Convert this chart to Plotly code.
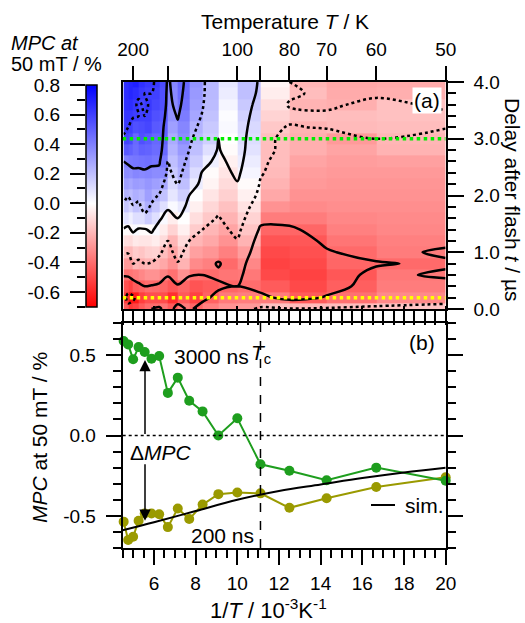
import numpy as np
import plotly.graph_objects as go

W, H = 525, 623
FONT = "Arial, 'Liberation Sans', sans-serif"
FS = 19      # tick labels
FT = 21      # titles and annotations

# ---------------- data ----------------
T_K = [220, 210, 200, 190, 180, 170, 160, 150, 140, 130, 120, 110, 100, 90, 80, 70, 60, 50]
inv_T = [1000.0 / t for t in T_K]

delays_us = [0.0, 0.2, 0.4, 0.6, 0.8, 1.0, 1.2, 1.4, 1.6, 1.8, 2.0,
             2.2, 2.4, 2.6, 2.8, 3.0, 3.2, 3.4, 3.6, 3.8, 4.0]

# MPC map (one list per temperature, delays 0.0 ... 4.0 us)
map_220K = [-0.45, -0.536, -0.48, -0.39, -0.28, -0.18, -0.09, -0.01, 0.09, 0.18, 0.24, 0.30, 0.36, 0.40, 0.52, 0.588, 0.62, 0.63, 0.65, 0.66, 0.66]
map_210K = [-0.55, -0.65, -0.52, -0.38, -0.28, -0.19, -0.10, -0.02, 0.05, 0.13, 0.21, 0.28, 0.35, 0.42, 0.50, 0.567, 0.60, 0.63, 0.66, 0.68, 0.68]
map_200K = [-0.52, -0.63, -0.45, -0.36, -0.20, -0.14, -0.06, 0.02, 0.10, 0.19, 0.25, 0.31, 0.38, 0.43, 0.46, 0.474, 0.55, 0.61, 0.63, 0.66, 0.70]
map_190K = [-0.45, -0.53, -0.43, -0.33, -0.22, -0.16, -0.07, -0.01, 0.10, 0.17, 0.23, 0.30, 0.37, 0.44, 0.50, 0.55, 0.56, 0.60, 0.58, 0.62, 0.65]
map_180K = [-0.40, -0.485, -0.40, -0.30, -0.20, -0.13, -0.07, -0.01, 0.16, 0.25, 0.30, 0.33, 0.38, 0.45, 0.49, 0.52, 0.58, 0.60, 0.62, 0.60, 0.62]
map_170K = [-0.40, -0.485, -0.41, -0.30, -0.21, -0.12, -0.05, 0.02, 0.10, 0.18, 0.24, 0.30, 0.36, 0.43, 0.46, 0.478, 0.52, 0.55, 0.58, 0.60, 0.62]
map_160K = [-0.38, -0.49, -0.42, -0.34, -0.24, -0.18, -0.10, -0.05, 0.02, 0.10, 0.19, 0.27, 0.36, 0.42, 0.47, 0.495, 0.50, 0.52, 0.55, 0.55, 0.56]
map_150K = [-0.45, -0.57, -0.46, -0.39, -0.30, -0.25, -0.20, -0.12, -0.05, 0.02, 0.08, 0.12, 0.17, 0.20, 0.24, 0.265, 0.30, 0.34, 0.36, 0.37, 0.38]
map_140K = [-0.36, -0.454, -0.42, -0.30, -0.21, -0.15, -0.10, -0.04, 0.00, 0.07, 0.15, 0.20, 0.25, 0.28, 0.32, 0.36, 0.38, 0.41, 0.44, 0.46, 0.47]
map_130K = [-0.42, -0.52, -0.47, -0.39, -0.32, -0.26, -0.20, -0.14, -0.09, -0.04, 0.00, 0.06, 0.11, 0.16, 0.20, 0.216, 0.24, 0.28, 0.30, 0.32, 0.34]
map_120K = [-0.35, -0.43, -0.45, -0.40, -0.35, -0.29, -0.24, -0.20, -0.15, -0.11, -0.07, -0.03, -0.01, 0.05, 0.10, 0.15, 0.17, 0.19, 0.21, 0.22, 0.22]
map_110K = [-0.30, -0.365, -0.42, -0.38, -0.41, -0.35, -0.30, -0.25, -0.21, -0.17, -0.13, -0.10, -0.07, -0.04, -0.01, 0.00, 0.02, 0.01, 0.03, 0.06, 0.08]
map_100K = [-0.28, -0.355, -0.40, -0.37, -0.33, -0.27, -0.21, -0.16, -0.12, -0.08, -0.04, -0.01, 0.03, 0.06, 0.09, 0.107, 0.12, 0.14, 0.17, 0.20, 0.20]
map_90K = [-0.17, -0.36, -0.45, -0.50, -0.52, -0.50, -0.47, -0.42, -0.36, -0.30, -0.24, -0.21, -0.19, -0.18, -0.18, -0.179, -0.15, -0.12, -0.09, -0.05, -0.03]
map_80K = [-0.19, -0.45, -0.50, -0.52, -0.50, -0.48, -0.46, -0.42, -0.36, -0.32, -0.30, -0.28, -0.27, -0.25, -0.22, -0.219, -0.21, -0.17, -0.21, -0.18, -0.20]
map_70K = [-0.18, -0.39, -0.44, -0.46, -0.42, -0.41, -0.38, -0.35, -0.33, -0.31, -0.30, -0.29, -0.28, -0.27, -0.25, -0.278, -0.19, -0.18, -0.22, -0.23, -0.24]
map_60K = [-0.16, -0.32, -0.36, -0.37, -0.41, -0.36, -0.35, -0.33, -0.32, -0.31, -0.30, -0.29, -0.28, -0.26, -0.21, -0.20, -0.18, -0.17, -0.17, -0.22, -0.23]
map_50K = [-0.15, -0.26, -0.35, -0.42, -0.38, -0.42, -0.37, -0.34, -0.32, -0.31, -0.30, -0.30, -0.29, -0.28, -0.26, -0.282, -0.19, -0.18, -0.22, -0.23, -0.24]

map_columns = [map_220K, map_210K, map_200K, map_190K, map_180K, map_170K, map_160K,
               map_150K, map_140K, map_130K, map_120K, map_110K, map_100K, map_90K,
               map_80K, map_70K, map_60K, map_50K]

# Traces in panel (b): MPC at 3000 ns and 200 ns
mpc_3000ns = [0.588, 0.567, 0.474, 0.55, 0.52, 0.478, 0.495, 0.265, 0.36, 0.216, 0.15, 0.0,
              0.107, -0.179, -0.219, -0.278, -0.2, -0.282]
mpc_200ns = [-0.536, -0.65, -0.63, -0.53, -0.485, -0.485, -0.49, -0.57, -0.454, -0.52, -0.43,
             -0.365, -0.355, -0.36, -0.45, -0.39, -0.32, -0.26]

sim_inv_T = [4.5, 6, 8, 10, 12, 14, 16, 18, 20]
sim_mpc = [-0.59, -0.54, -0.47, -0.40, -0.345, -0.305, -0.265, -0.23, -0.20]

Tc_inv = 1000.0 / 90
delay_late = 3.0
delay_early = 0.2

top_T_ticks = [200, 150, 100, 90, 80, 70, 60, 50]
top_T_text = ["200", "", "100", "", "80", "70", "60", "50"]
cbar_ticks = [-0.6, -0.4, -0.2, 0.0, 0.2, 0.4, 0.6, 0.8]
cbar_text = ["-0.6", "-0.4", "-0.2", "0.0", "0.2", "0.4", "0.6", "0.8"]
b_yticks = [-0.5, 0.0, 0.5]
b_ytext = ["-0.5", "0.0", "0.5"]

# ---------------- geometry ----------------
def px(x):
    return x / W

def py(y):
    return 1 - y / H

XDOM = [px(122.7), px(445.7)]
TOP_DOM = [py(309), py(82)]
BOT_DOM = [py(548), py(323)]
CB_X = [px(86), px(96.7)]
CB_Y = [py(306.7), py(85)]
XR = [4.5, 20]

Z = np.array(map_columns).T  # rows = delays, columns = temperatures

colorscale = [[0.0, "rgb(255,0,0)"], [0.7 / 1.5, "rgb(255,255,255)"], [1.0, "rgb(0,0,255)"]]

fig = go.Figure()

fig.add_trace(go.Heatmap(
    x=inv_T, y=delays_us, z=Z[:, :-1], colorscale=colorscale, zmin=-0.7, zmax=0.8,
    xaxis="x", yaxis="y", hoverinfo="skip",
    colorbar=dict(x=CB_X[0], xanchor="left", xpad=0, y=CB_Y[0], yanchor="bottom", ypad=0,
                  len=CB_Y[1] - CB_Y[0], lenmode="fraction", thickness=96.7 - 86,
                  thicknessmode="pixels", outlinewidth=1.5, outlinecolor="black",
                  ticks="", showticklabels=False)))

fig.add_trace(go.Contour(
    x=inv_T, y=delays_us, z=Z, xaxis="x", yaxis="y", showscale=False, hoverinfo="skip",
    contours=dict(coloring="none", start=-0.6, end=0.6, size=0.4, showlabels=False),
    line=dict(color="black", width=2.5, dash="dot")))
fig.add_trace(go.Contour(
    x=inv_T, y=delays_us, z=Z, xaxis="x", yaxis="y", showscale=False, hoverinfo="skip",
    contours=dict(coloring="none", start=-0.4, end=0.4, size=0.4, showlabels=False),
    line=dict(color="black", width=2.5)))

# empty traces to activate overlay / colorbar axes
fig.add_trace(go.Scatter(x=[None], y=[None], xaxis="x3", yaxis="y", showlegend=False))
fig.add_trace(go.Scatter(x=[None], y=[None], xaxis="x4", yaxis="y4", showlegend=False))

# panel (b)
fig.add_trace(go.Scatter(x=inv_T, y=mpc_200ns, mode="lines+markers", xaxis="x2", yaxis="y2",
                         line=dict(color="#9a9a00", width=2), marker=dict(size=10, color="#9a9a00"),
                         cliponaxis=False, showlegend=False))
fig.add_trace(go.Scatter(x=inv_T, y=mpc_3000ns, mode="lines+markers", xaxis="x2", yaxis="y2",
                         line=dict(color="#1e9e1e", width=2), marker=dict(size=10, color="#1e9e1e"),
                         cliponaxis=False, showlegend=False))
fig.add_trace(go.Scatter(x=sim_inv_T, y=sim_mpc, mode="lines", xaxis="x2", yaxis="y2",
                         line=dict(color="black", width=2, shape="spline"), showlegend=False))

axis_common = dict(showgrid=False, zeroline=False, linecolor="black", linewidth=2,
                   tickcolor="black", tickwidth=2, automargin=False,
                   tickfont=dict(family=FONT, size=FS, color="black"))

fig.update_layout(
    width=W, height=H, margin=dict(l=0, r=0, t=0, b=0),
    paper_bgcolor="white", plot_bgcolor="white", showlegend=False,
    font=dict(family=FONT, size=FS, color="black"),
    xaxis=dict(domain=XDOM, anchor="y", side="top", range=XR,
               tickmode="array", tickvals=[1000.0 / t for t in top_T_ticks], ticktext=top_T_text,
               ticks="outside", ticklen=14, showline=True, ticklabelstandoff=2, **axis_common),
    xaxis3=dict(overlaying="x", anchor="y", side="bottom", range=XR, tick0=0, dtick=0.5,
                ticks="outside", ticklen=14, showticklabels=False, showline=True, **axis_common),
    yaxis=dict(domain=TOP_DOM, anchor="x", side="right", range=[0, 4], dtick=1, tick0=0,
               tickformat=".1f", ticks="outside", ticklen=16, showline=True, mirror=True,
               ticklabelstandoff=6,
               minor=dict(tickmode="linear", tick0=0, dtick=0.2, ticklen=8, ticks="outside",
                          tickcolor="black", tickwidth=2), **axis_common),
    xaxis2=dict(domain=XDOM, anchor="y2", range=XR, tick0=0, dtick=2, ticks="outside",
                ticklen=15, showline=True, mirror="ticks", ticklabelstandoff=2,
                minor=dict(tickmode="linear", tick0=0, dtick=0.5, ticklen=8, ticks="outside",
                           tickcolor="black", tickwidth=2), **axis_common),
    yaxis2=dict(domain=BOT_DOM, anchor="x2", range=[-0.7, 0.7], tickmode="array",
                tickvals=b_yticks, ticktext=b_ytext, ticks="outside", ticklen=15, showline=True,
                mirror="ticks", ticklabelstandoff=6,
                minor=dict(tickmode="linear", tick0=0, dtick=0.1, ticklen=8, ticks="outside",
                           tickcolor="black", tickwidth=2), **axis_common),
    xaxis4=dict(domain=CB_X, anchor="y4", range=[0, 1], visible=False),
    yaxis4=dict(domain=CB_Y, anchor="x4", side="left", range=[-0.7, 0.8], tickmode="array",
                tickvals=cbar_ticks, ticktext=cbar_text, ticks="outside", ticklen=15,
                showline=False, ticklabelstandoff=6,
                minor=dict(tickmode="linear", tick0=0.1, dtick=0.2, ticklen=8, ticks="outside",
                           tickcolor="black", tickwidth=2), **axis_common),
)

shapes = [
    dict(type="line", xref="x", yref="y", x0=XR[0], x1=XR[1], y0=delay_late, y1=delay_late,
         line=dict(color="#00ee00", width=3.5, dash="dot")),
    dict(type="line", xref="x", yref="y", x0=XR[0], x1=XR[1], y0=delay_early, y1=delay_early,
         line=dict(color="#ffff00", width=3.5, dash="dot")),
    dict(type="line", xref="x2", yref="y2", x0=XR[0], x1=XR[1], y0=0, y1=0,
         line=dict(color="black", width=1.5, dash="dot")),
    dict(type="line", xref="x2", yref="y2", x0=Tc_inv, x1=Tc_inv, y0=-0.7, y1=0.7,
         line=dict(color="black", width=1.5, dash="dash")),
    dict(type="line", xref="paper", yref="paper", x0=px(371), x1=px(395), y0=py(505), y1=py(505),
         line=dict(color="black", width=2)),
]
fig.update_layout(shapes=shapes)

def ann(text, x, y, size=FT, angle=0, xanchor="center", **kw):
    return dict(text=text, x=px(x), y=py(y), xref="paper", yref="paper", showarrow=False,
                textangle=angle, xanchor=xanchor, yanchor="middle",
                font=dict(family=FONT, size=size, color="black"), **kw)

annotations = [
    ann("Temperature <i>T</i> / K", 285, 22),
    ann("<i>MPC at</i>", 9, 43, size=20, xanchor="left"),
    ann("50 mT / %", 9, 64, size=20, xanchor="left"),
    ann("Delay after flash <i>t</i> / µs", 513, 200, angle=90),
    ann("<i>MPC</i> at 50 mT / %", 39, 438, angle=-90),
    ann("1/<i>T</i> / 10<sup>-3</sup>K<sup>-1</sup>", 268, 609, size=22),
    ann("(a)", 427, 100, bgcolor="white", borderpad=1),
    ann("(b)", 422, 342),
    ann("3000 ns", 211, 356),
    ann("<i>T</i><sub>c</sub>", 261, 354),
    ann("Δ<i>MPC</i>", 161, 452),
    ann("200 ns", 222, 535),
    ann("sim.", 403, 505, xanchor="left"),
    dict(x=5.57, y=0.47, ax=5.57, ay=0.0, xref="x2", yref="y2", axref="x2", ayref="y2",
         text="", showarrow=True, arrowhead=2, arrowsize=1.5, arrowwidth=1.5, arrowcolor="black"),
    dict(x=5.57, y=-0.53, ax=5.57, ay=-0.17, xref="x2", yref="y2", axref="x2", ayref="y2",
         text="", showarrow=True, arrowhead=2, arrowsize=1.5, arrowwidth=1.5, arrowcolor="black"),
]
fig.update_layout(annotations=annotations)

fig.write_html("out.html")
